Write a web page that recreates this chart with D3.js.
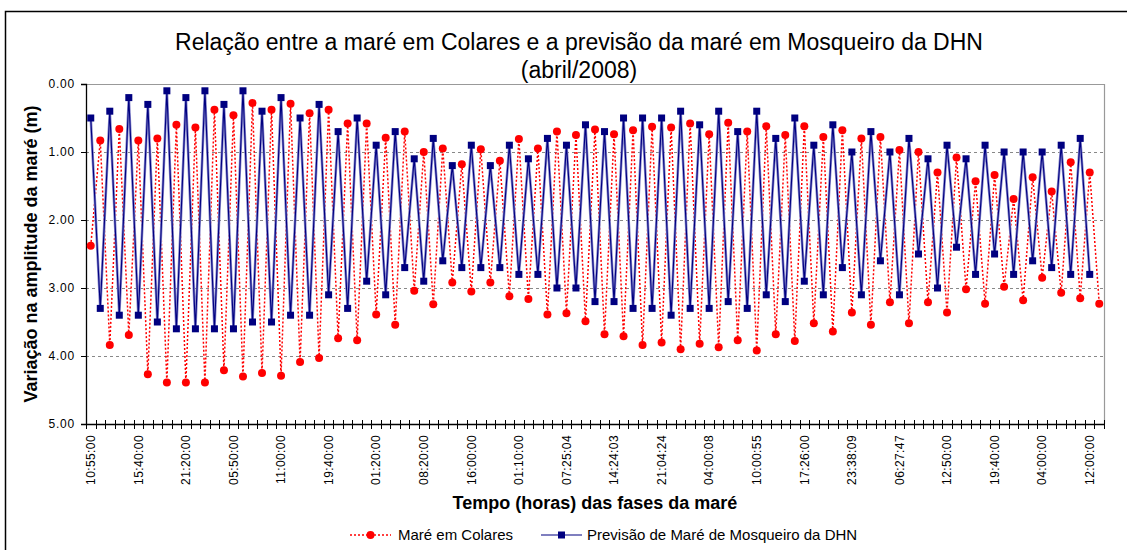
<!DOCTYPE html>
<html>
<head>
<meta charset="utf-8">
<style>
  body { margin: 0; background: #fff; }
  text { font-family: Arial, "Liberation Sans", sans-serif; fill: #000; }
  .grid line { stroke: #888; stroke-dasharray: 3,3; }
  .red-line { fill: none; stroke: #ff0000; stroke-width: 1.5; stroke-dasharray: 2,2; }
  .blue-halo { fill: none; stroke: #8888cc; stroke-width: 2.6; }
  .blue-line { fill: none; stroke: #000080; stroke-width: 1.1; }
  .dot { fill: #ff0000; }
  .sq { fill: #000080; }
</style>
</head>
<body>
<div id="chart"></div>
<script src="https://d3js.org/d3.v7.min.js"></script>
<script>
// labels shown on the x axis, one every 5 tide phases
var tickLabels = ["10:55:00", "15:40:00", "21:20:00", "05:50:00", "11:00:00", "19:40:00",
  "01:20:00", "08:20:00", "16:00:00", "01:10:00", "07:25:04", "14:24:03", "21:04:24",
  "04:00:08", "10:00:55", "17:26:00", "23:38:09", "06:27:47", "12:50:00", "19:40:00",
  "04:00:00", "12:00:00"];
var labelStep = 5;

// Maré em Colares (m)
var colares = [2.38, 0.83, 3.84, 0.66, 3.69, 0.83, 4.27, 0.80, 4.39, 0.60,
  4.39, 0.64, 4.39, 0.38, 4.21, 0.46, 4.30, 0.28, 4.25, 0.38,
  4.29, 0.29, 4.09, 0.43, 4.03, 0.38, 3.74, 0.58, 3.77, 0.58,
  3.39, 0.79, 3.54, 0.70, 3.04, 1.00, 3.24, 0.95, 2.92, 1.18,
  3.05, 0.96, 2.92, 1.13, 3.12, 0.81, 3.16, 0.95, 3.39, 0.70,
  3.37, 0.75, 3.49, 0.67, 3.68, 0.74, 3.71, 0.68, 3.84, 0.63,
  3.80, 0.64, 3.90, 0.58, 3.82, 0.74, 3.87, 0.57, 3.77, 0.70,
  3.92, 0.62, 3.68, 0.75, 3.78, 0.62, 3.52, 0.78, 3.64, 0.68,
  3.36, 0.80, 3.54, 0.78, 3.21, 0.97, 3.52, 1.00, 3.21, 1.30,
  3.36, 1.08, 3.02, 1.43, 3.23, 1.34, 2.98, 1.69, 3.18, 1.37,
  2.85, 1.58, 3.07, 1.15, 3.15, 1.30, 3.23];

// Previsão de Maré de Mosqueiro da DHN (m)
var mosqueiro = [0.5, 3.3, 0.4, 3.4, 0.2, 3.4, 0.3, 3.5, 0.1, 3.6,
  0.2, 3.6, 0.1, 3.6, 0.3, 3.6, 0.1, 3.5, 0.4, 3.5,
  0.2, 3.4, 0.5, 3.4, 0.3, 3.1, 0.7, 3.3, 0.5, 2.9,
  0.9, 3.1, 0.7, 2.7, 1.1, 2.9, 0.8, 2.6, 1.2, 2.7,
  0.9, 2.7, 1.2, 2.7, 0.9, 2.8, 1.1, 2.8, 0.8, 3.0,
  0.9, 3.0, 0.6, 3.2, 0.7, 3.2, 0.5, 3.3, 0.5, 3.3,
  0.5, 3.4, 0.4, 3.3, 0.6, 3.3, 0.4, 3.2, 0.7, 3.3,
  0.4, 3.1, 0.8, 3.2, 0.5, 2.9, 0.9, 3.1, 0.6, 2.7,
  1.0, 3.1, 0.7, 2.6, 1.0, 3.1, 0.8, 2.5, 1.1, 3.0,
  0.9, 2.4, 1.1, 2.8, 0.9, 2.5, 1.0, 2.8, 1.0, 2.6,
  1.0, 2.7, 0.9, 2.8, 0.8, 2.8, null];

var yTicks = [0, 1, 2, 3, 4, 5];

var width = 1127, height = 550;
var plot = {left: 86, top: 84, right: 1104, bottom: 424};

var svg = d3.select("#chart").append("svg")
    .attr("width", width)
    .attr("height", height);

// chart border
svg.append("rect")
    .attr("x", 5.5).attr("y", 11.5)
    .attr("width", 1140).attr("height", 560)
    .attr("fill", "none").attr("stroke", "#000").attr("stroke-width", 1.5);

var categories = d3.range(colares.length);

var x = d3.scaleBand()
    .domain(categories)
    .range([plot.left, plot.right])
    .padding(0);

var y = d3.scaleLinear()
    .domain([0, 5])
    .range([plot.top, plot.bottom]);

function cx(i) { return x(i) + x.bandwidth() / 2; }

// plot area frame (top + right)
svg.append("path")
    .attr("d", "M" + plot.left + "," + (plot.top + 0.5) + "H" + (plot.right + 0.5) + "V" + plot.bottom)
    .attr("fill", "none").attr("stroke", "#999").attr("stroke-width", 1.2);

// gridlines
svg.append("g")
    .attr("class", "grid")
    .selectAll("line")
    .data(yTicks.slice(1, -1))
    .enter().append("line")
    .attr("x1", plot.left).attr("x2", plot.right)
    .attr("y1", function(d) { return Math.round(y(d)) + 0.5; })
    .attr("y2", function(d) { return Math.round(y(d)) + 0.5; });

// y axis
var yAxis = svg.append("g")
    .attr("transform", "translate(" + plot.left + ",0)")
    .call(d3.axisLeft(y).tickValues(yTicks).tickFormat(d3.format(".2f")).tickSize(5).tickPadding(6));
yAxis.select(".domain").attr("stroke", "#000").attr("stroke-width", 1.3);
yAxis.selectAll("text")
    .style("font-size", "12px")
    .style("letter-spacing", "0.8px")
    .style("font-family", "Arial, 'Liberation Sans', sans-serif");

// x axis: cross ticks on category edges
var edges = d3.range(categories.length + 1);
svg.append("line")
    .attr("x1", plot.left).attr("x2", plot.right)
    .attr("y1", plot.bottom + 0.5).attr("y2", plot.bottom + 0.5)
    .attr("stroke", "#000").attr("stroke-width", 1.3);
svg.append("g").selectAll("line")
    .data(edges)
    .enter().append("line")
    .attr("x1", function(d) { return d < categories.length ? Math.round(x(d)) + 0.5 : plot.right + 0.5; })
    .attr("x2", function(d) { return d < categories.length ? Math.round(x(d)) + 0.5 : plot.right + 0.5; })
    .attr("y1", plot.bottom - 4).attr("y2", plot.bottom + 5)
    .attr("stroke", "#000");

// x labels
svg.append("g").selectAll("text")
    .data(tickLabels)
    .enter().append("text")
    .attr("transform", function(d, i) { return "translate(" + cx(i * labelStep) + "," + (plot.bottom + 11) + ") rotate(-90)"; })
    .attr("dy", "0.35em")
    .attr("text-anchor", "end")
    .style("font-size", "12px")
    .style("letter-spacing", "0.4px")
    .text(function(d) { return d; });

// series lines
var redLine = d3.line()
    .x(function(d, i) { return cx(i); })
    .y(function(d) { return y(d); });

var blueLine = d3.line()
    .defined(function(d) { return d != null; })
    .x(function(d, i) { return cx(i); })
    .y(function(d) { return y(d); });

svg.append("path").datum(colares).attr("class", "red-line").attr("d", redLine);
svg.append("path").datum(mosqueiro).attr("class", "blue-halo").attr("d", blueLine);
svg.append("path").datum(mosqueiro).attr("class", "blue-line").attr("d", blueLine);

svg.selectAll(".dot")
    .data(colares)
    .enter().append("circle")
    .attr("class", "dot")
    .attr("cx", function(d, i) { return cx(i); })
    .attr("cy", function(d) { return y(d); })
    .attr("r", 4);

svg.selectAll(".sq")
    .data(mosqueiro.map(function(d, i) { return {v: d, i: i}; }).filter(function(d) { return d.v != null; }))
    .enter().append("rect")
    .attr("class", "sq")
    .attr("x", function(d) { return cx(d.i) - 3.5; })
    .attr("y", function(d) { return y(d.v) - 3.5; })
    .attr("width", 7).attr("height", 7);

// titles
svg.append("text")
    .attr("x", 579).attr("y", 50)
    .attr("text-anchor", "middle")
    .style("font-size", "23px")
    .text("Relação entre a maré em Colares e a previsão da maré em Mosqueiro da DHN");
svg.append("text")
    .attr("x", 579).attr("y", 78)
    .attr("text-anchor", "middle")
    .style("font-size", "23px")
    .text("(abril/2008)");

svg.append("text")
    .attr("transform", "translate(37," + ((plot.top + plot.bottom) / 2) + ") rotate(-90)")
    .attr("text-anchor", "middle")
    .style("font-size", "18px").style("font-weight", "bold")
    .text("Variação na amplitude da maré (m)");

svg.append("text")
    .attr("x", 595).attr("y", 509)
    .attr("text-anchor", "middle")
    .style("font-size", "18px").style("font-weight", "bold")
    .text("Tempo (horas) das fases da maré");

// legend
var legend = svg.append("g").attr("transform", "translate(0,535)");
legend.append("line").attr("x1", 350).attr("x2", 391).attr("y1", 0).attr("y2", 0)
    .attr("class", "red-line");
legend.append("circle").attr("cx", 370.5).attr("cy", 0).attr("r", 4).attr("class", "dot");
legend.append("text").attr("x", 398).attr("y", 0).attr("dy", "0.35em")
    .style("font-size", "15px").text("Maré em Colares");
legend.append("line").attr("x1", 541).attr("x2", 582).attr("y1", 0).attr("y2", 0)
    .attr("class", "blue-line");
legend.append("rect").attr("x", 558).attr("y", -3.5).attr("width", 7).attr("height", 7).attr("class", "sq");
legend.append("text").attr("x", 587).attr("y", 0).attr("dy", "0.35em")
    .style("font-size", "15px").text("Previsão de Maré de Mosqueiro da DHN");
</script>
</body>
</html>
